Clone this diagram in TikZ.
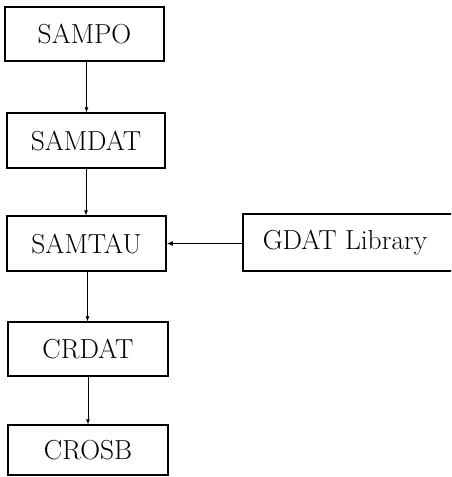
\documentclass[tikz,border=0pt]{standalone}
\usetikzlibrary{arrows.meta}
\begin{document}
\begin{tikzpicture}[x=1pt,y=-1pt,
  box/.style={draw, line width=1.5pt, inner sep=0pt, font=\fontsize{27.5}{32}\selectfont},
  flow/.style={line width=0.6pt, -{Latex[length=5pt,width=4pt]}},
  feed/.style={line width=1.2pt, -{Latex[length=6pt,width=5pt]}}]
\useasboundingbox (0,0) rectangle (451,477);
\clip (0,0) rectangle (451,477);
\node[box, minimum width=159pt, minimum height=54pt] (sampo) at (84.5,34) {SAMPO};
\node[box, minimum width=158pt, minimum height=55pt] (samdat) at (86,140.5) {SAMDAT};
\node[box, minimum width=159pt, minimum height=55pt] (samtau) at (86.5,243.5) {SAMTAU};
\node[box, minimum width=212pt, minimum height=57pt] (gdat) at (349,242.5) {\hspace*{-8pt}GDAT Library};
\node[box, minimum width=160pt, minimum height=54pt] (crdat) at (88,349) {CRDAT};
\node[box, minimum width=160pt, minimum height=50pt] (crosb) at (88,450) {CROSB};
\draw[flow] (sampo.south) ++(2,0) coordinate (a1) -- (a1 |- samdat.north);
\draw[flow] (samdat.south) ++(0,0) coordinate (a2) -- (a2 |- samtau.north);
\draw[flow] (samtau.south) ++(1,0) coordinate (a3) -- (a3 |- crdat.north);
\draw[flow] (crdat.south) coordinate (a4) -- (a4 |- crosb.north);
\draw[feed] (gdat.west |- samtau.east) -- (samtau.east);
\end{tikzpicture}
\end{document}
